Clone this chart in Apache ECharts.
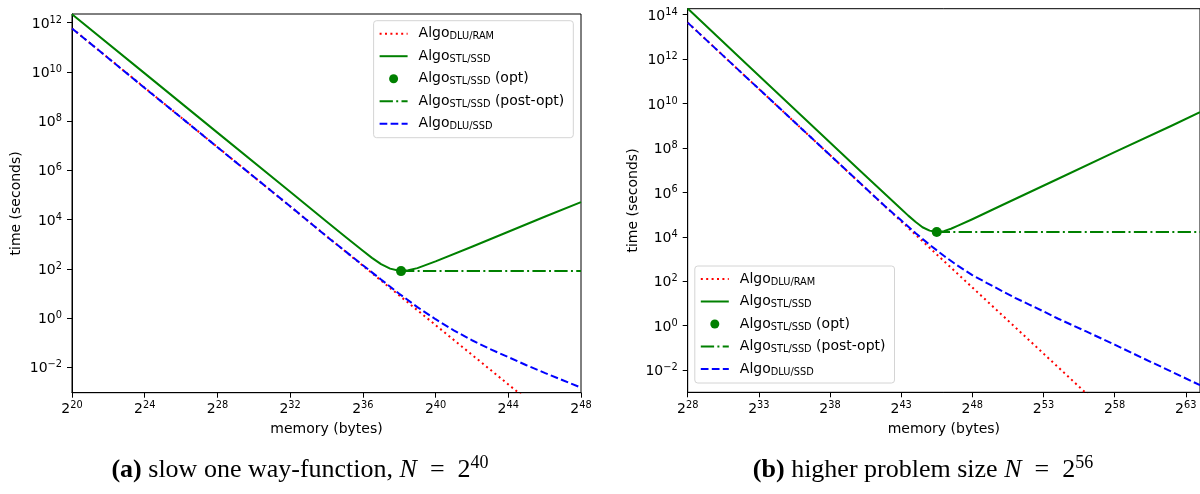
<!DOCTYPE html>
<html>
<head>
<meta charset="utf-8">
<title>memory vs time</title>
<script src="https://cdn.jsdelivr.net/npm/echarts@6/dist/echarts.min.js"></script>
<style>
  html, body { margin: 0; padding: 0; background: #fff; }
  #main { width: 1200px; height: 494px; }
</style>
</head>
<body>
<div id="main"></div>
<script type="text/javascript">
"use strict"
// memory is given as the exponent of 2 (bytes), time in seconds

// (a) slow one way-function, N = 2^40
var ramMemA = [20, 30, 40, 48];
var ramTimeA = [5.8e11, 5.5e5, 0.52, 7.9e-6];
var ssdMemA = [20, 22, 24, 26, 28, 30, 32, 34, 36, 37, 38, 39, 40, 41, 42, 43, 44, 45, 46, 47, 48];
var ssdTimeA = [5.8e11, 3.6e10, 2.2e9, 1.4e8, 8.7e6, 5.5e5, 3.5e4, 2.1e3, 141, 37, 9.8, 2.8, 0.9, 0.32, 0.126, 0.055, 0.026, 0.0122, 6.0e-3, 3.0e-3, 1.5e-3];
var stlMemA = [20, 24, 28, 32, 34, 35, 36, 36.5, 37, 37.5, 38, 38.5, 39, 40, 42, 44, 46, 48];
var stlTimeA = [2.2e12, 8.7e9, 3.4e7, 1.35e5, 8.3e3, 2.1e3, 540, 280, 155, 102, 83, 87, 107, 200, 790, 3.2e3, 1.3e4, 5.1e4];
var optA = [38.1, 81];
var postEndA = 48;

// (b) higher problem size N = 2^56
var ramMemB = [28, 36, 44, 52, 60];
var ramTimeB = [4.4e13, 7.4e8, 1.26e4, 0.22, 3.7e-6];
var ssdMemB = [28, 32, 36, 40, 42, 43, 44, 45, 46, 47, 48, 49, 50, 51, 52, 53, 54, 56, 58, 60, 62, 64];
var ssdTimeB = [4.4e13, 1.8e11, 7.4e8, 3.1e6, 2.0e5, 5.5e4, 1.5e4, 4.4e3, 1.4e3, 490, 190, 85, 39, 18, 8.9, 4.4, 2.1, 0.55, 0.14, 0.034, 8.5e-3, 2.1e-3];
var stlMemB = [28, 32, 36, 40, 42, 43, 43.5, 44, 44.5, 45, 45.5, 46, 46.5, 47, 48, 50, 54, 58, 62, 64];
var stlTimeB = [1.9e14, 7.2e11, 2.8e9, 1.1e7, 7.1e5, 1.8e5, 9.0e4, 4.8e4, 2.7e4, 1.9e4, 1.65e4, 1.8e4, 2.3e4, 3.2e4, 6.2e4, 2.5e5, 4.0e6, 6.5e7, 1.0e9, 4.1e9];
var optB = [45.5, 1.65e4];
var postEndB = 64;

// ticks (exponents)
var xTicksA = [20, 24, 28, 32, 36, 40, 44, 48];
var yTicksA = [-2, 0, 2, 4, 6, 8, 10, 12];
var xTicksB = [28, 33, 38, 43, 48, 53, 58, 63];
var yTicksB = [-2, 0, 2, 4, 6, 8, 10, 12, 14];

var names = ['dluRam', 'stl', 'opt', 'post', 'dluSsd'];
var legendText = {
    dluRam: '{a|Algo}{s|DLU/RAM}',
    stl: '{a|Algo}{s|STL/SSD}',
    opt: '{a|Algo}{s|STL/SSD}{c| (opt)}',
    post: '{a|Algo}{s|STL/SSD}{c| (post-opt)}',
    dluSsd: '{a|Algo}{s|DLU/SSD}'
};

var FONT = 'DejaVu Sans';
var SERIF = 'Liberation Serif';

function pts(xs, ts) {
    return xs.map(function (x, i) { return [x, Math.log10(ts[i])]; });
}
function sup(v) {
    return v < 0 ? '\u2212' + (-v) : '' + v;
}

var tickRich = {
    b: { fontFamily: FONT, fontSize: 14, lineHeight: 15, padding: [3, 0, 0, 0], color: '#000' },
    s: { fontFamily: FONT, fontSize: 9.8, lineHeight: 10, verticalAlign: 'top', color: '#000' }
};

function xAxisOf(idx, min, max, ticks) {
    return {
        type: 'value', gridIndex: idx, min: min, max: max,
        name: 'memory (bytes)', nameLocation: 'middle', nameGap: 30,
        nameTextStyle: { fontFamily: FONT, fontSize: 14, color: '#000' },
        axisLine: { onZero: false, lineStyle: { color: '#000', width: 1 } },
        axisTick: { customValues: ticks, length: 5, lineStyle: { color: '#000', width: 1 } },
        axisLabel: {
            customValues: ticks, margin: 8,
            formatter: function (v) { return '{b|2}{s|' + sup(v) + '}'; },
            rich: tickRich
        },
        splitLine: { show: false }
    };
}
function yAxisOf(idx, min, max, ticks, gap) {
    return {
        type: 'value', gridIndex: idx, min: min, max: max,
        name: 'time (seconds)', nameLocation: 'middle', nameGap: gap, nameRotate: 90,
        nameTextStyle: { fontFamily: FONT, fontSize: 14, color: '#000' },
        axisLine: { onZero: false, lineStyle: { color: '#000', width: 1 } },
        axisTick: { customValues: ticks, length: 5, lineStyle: { color: '#000', width: 1 } },
        axisLabel: {
            customValues: ticks, margin: 10,
            formatter: function (v) { return '{b|10}{s|' + sup(v) + '}'; },
            rich: tickRich
        },
        splitLine: { show: false }
    };
}

function seriesOf(idx, ram, ssd, stl, opt, postEnd) {
    var optPt = [opt[0], Math.log10(opt[1])];
    var base = { type: 'line', xAxisIndex: idx, yAxisIndex: idx, symbol: 'none', animation: false, clip: true };
    return [
        Object.assign({}, base, { name: 'dluRam', data: ram,
            itemStyle: { color: 'red' }, lineStyle: { color: 'red', width: 2, type: [2, 3.4] } }),
        Object.assign({}, base, { name: 'stl', data: stl,
            itemStyle: { color: 'green' }, lineStyle: { color: 'green', width: 2, join: 'round' } }),
        { name: 'opt', type: 'scatter', xAxisIndex: idx, yAxisIndex: idx, data: [optPt],
            symbolSize: 10, animation: false, itemStyle: { color: 'green', opacity: 1 }, z: 3 },
        Object.assign({}, base, { name: 'post', data: [optPt, [postEnd, optPt[1]]],
            itemStyle: { color: 'green' }, lineStyle: { color: 'green', width: 2, type: [13.3, 3.3, 2, 3.3] } }),
        Object.assign({}, base, { name: 'dluSsd', data: ssd,
            itemStyle: { color: 'blue' }, lineStyle: { color: 'blue', width: 2, type: [7.7, 3.3] } })
    ];
}

function legendOf(left, top) {
    return {
        orient: 'vertical', left: left, top: top,
        data: names.map(function (n) {
            return n === 'opt' ? { name: n } : { name: n, itemStyle: { opacity: 0 } };
        }),
        selectedMode: false,
        itemWidth: 28, itemHeight: 9, itemGap: 7.5,
        padding: [6, 9, 6, 5],
        backgroundColor: 'rgba(255,255,255,0.8)',
        borderColor: '#d4d4d4', borderWidth: 1, borderRadius: 3,
        formatter: function (name) { return legendText[name]; },
        textStyle: {
            fontFamily: FONT, fontSize: 14, color: '#000',
            rich: {
                a: { fontFamily: FONT, fontSize: 14, lineHeight: 16, padding: [0, 0, 0, 6], color: '#000' },
                s: { fontFamily: FONT, fontSize: 9.8, lineHeight: 10, verticalAlign: 'bottom', color: '#000' },
                c: { fontFamily: FONT, fontSize: 14, lineHeight: 16, color: '#000' }
            }
        }
    };
}

function caption(x, tag, body, expo) {
    return {
        type: 'text', x: x, y: 467, z: 10,
        style: {
            text: '{b|' + tag + '}{r| ' + body + '}{i|N}{r|\u2002=\u20022}{s|' + expo + '}',
            align: 'center', verticalAlign: 'middle',
            rich: {
                b: { fontFamily: SERIF, fontSize: 26, fontWeight: 'bold', lineHeight: 26, padding: [6, 0, 0, 0], fill: '#000' },
                r: { fontFamily: SERIF, fontSize: 26, lineHeight: 26, padding: [6, 0, 0, 0], fill: '#000' },
                i: { fontFamily: SERIF, fontSize: 26, fontStyle: 'italic', lineHeight: 26, padding: [6, 0, 0, 0], fill: '#000' },
                s: { fontFamily: SERIF, fontSize: 18, lineHeight: 18, verticalAlign: 'top', fill: '#000' }
            }
        }
    };
}

var myChart = echarts.init(document.getElementById('main'));
var option = {
    backgroundColor: '#fff',
    animation: false,
    grid: [
        { left: 72, top: 14, width: 509, height: 378.7, show: true, borderColor: '#000', borderWidth: 1 },
        { left: 687.7, top: 8.7, width: 514.8, height: 383.6, show: true, borderColor: '#000', borderWidth: 1 }
    ],
    xAxis: [
        xAxisOf(0, 20, 48, xTicksA),
        xAxisOf(1, 28, 64, xTicksB)
    ],
    yAxis: [
        yAxisOf(0, -3.03, 12.35, yTicksA, 49),
        yAxisOf(1, -3.0, 14.27, yTicksB, 47)
    ],
    legend: [legendOf(373.6, 20.7), legendOf(694.8, 266)],
    series: seriesOf(0, pts(ramMemA, ramTimeA), pts(ssdMemA, ssdTimeA), pts(stlMemA, stlTimeA), optA, postEndA)
        .concat(seriesOf(1, pts(ramMemB, ramTimeB), pts(ssdMemB, ssdTimeB), pts(stlMemB, stlTimeB), optB, postEndB)),
    graphic: [
        caption(300, '(a)', 'slow one way-function, ', '40'),
        caption(923, '(b)', 'higher problem size ', '56')
    ]
};
myChart.setOption(option);
</script>
</body>
</html>
